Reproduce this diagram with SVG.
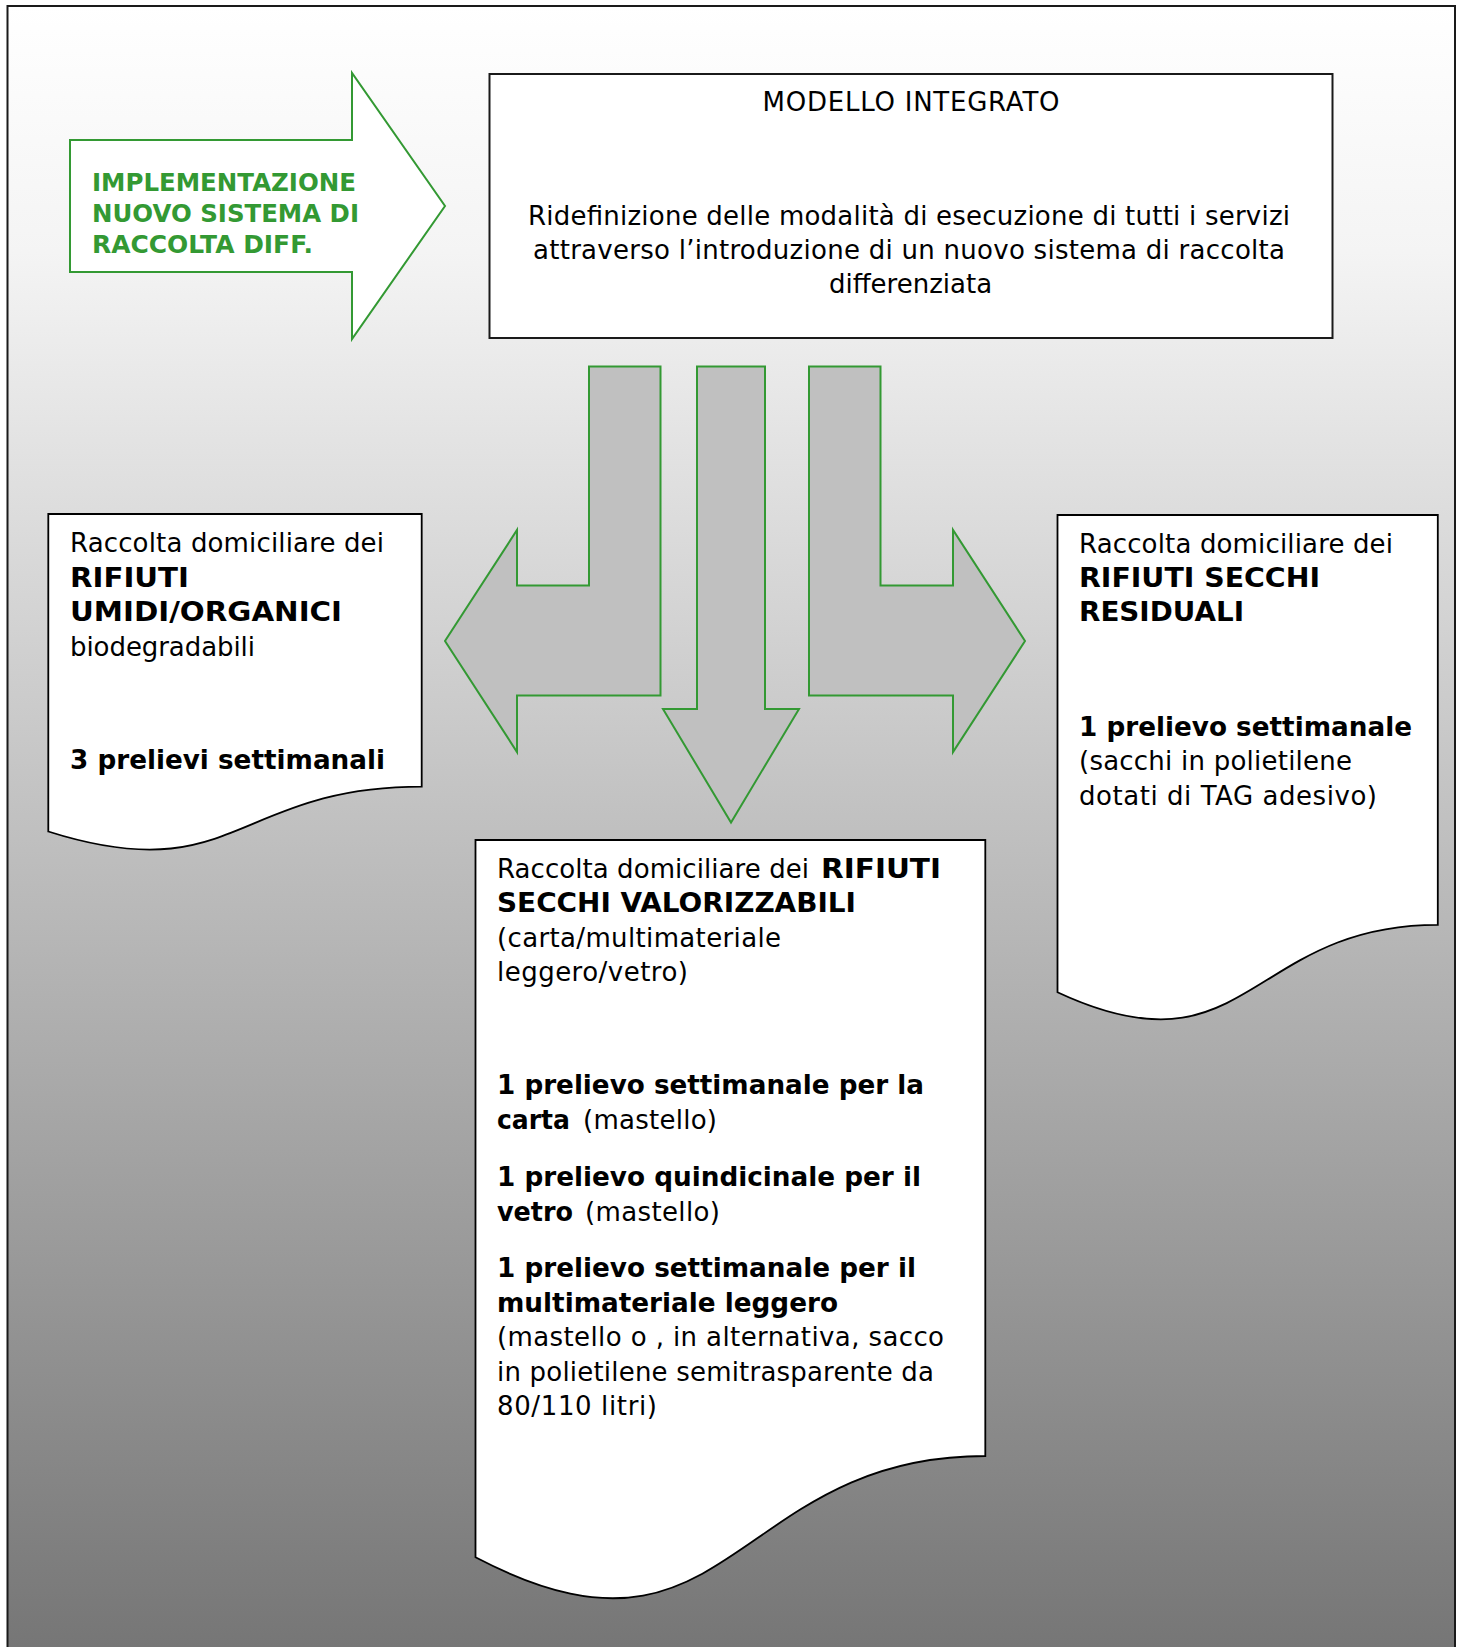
<svg xmlns="http://www.w3.org/2000/svg" width="1461" height="1647" viewBox="0 0 1461 1647">
<style>
  .frame{fill:url(#bg);stroke:#1a1a1a;stroke-width:2}
  .box{fill:#fff;stroke:#1a1a1a;stroke-width:2}
  .doc{fill:#fff;stroke:#000;stroke-width:1.8}
  .garrow{fill:#fff;stroke:#339933;stroke-width:2}
  .barrow{fill:#c0c0c0;stroke:#339933;stroke-width:2}
  text{font-family:"DejaVu Sans",Verdana,sans-serif;font-size:26px;fill:#000}
  .b{font-weight:bold}
  .g{font-weight:bold;font-size:24px;fill:#339933}
</style>
<defs>
  <linearGradient id="bg" x1="0" y1="6" x2="0" y2="1647" gradientUnits="userSpaceOnUse">
    <stop offset="0" stop-color="#ffffff"/>
    <stop offset="0.15" stop-color="#f4f4f4"/>
    <stop offset="1" stop-color="#767676"/>
  </linearGradient>
</defs>
<rect class="frame" x="7.5" y="6" width="1447.5" height="1650"/>

<g id="implementazione">
  <polygon class="garrow" points="70,140 352,140 352,73 445,206 352,339 352,272 70,272"/>
  <text class="g" x="92" y="190.7" textLength="264" lengthAdjust="spacingAndGlyphs">IMPLEMENTAZIONE</text>
  <text class="g" x="92" y="221.7" textLength="267" lengthAdjust="spacingAndGlyphs">NUOVO SISTEMA DI</text>
  <text class="g" x="92" y="253" textLength="221" lengthAdjust="spacingAndGlyphs">RACCOLTA DIFF.</text>
</g>

<g id="modello">
  <rect class="box" x="489.5" y="74" width="843" height="264"/>
  <text x="911" y="110.7" text-anchor="middle" textLength="297" lengthAdjust="spacing">MODELLO INTEGRATO</text>
  <text x="909" y="224.5" text-anchor="middle" textLength="762" lengthAdjust="spacing">Ridefinizione delle modalità di esecuzione di tutti i servizi</text>
  <text x="909" y="258.5" text-anchor="middle" textLength="752" lengthAdjust="spacing">attraverso l’introduzione di un nuovo sistema di raccolta</text>
  <text x="910.5" y="292.5" text-anchor="middle">differenziata</text>
</g>

<g id="connectors">
  <polygon class="barrow" points="589,366.5 660.5,366.5 660.5,695.5 517,695.5 517,752 445,641 517,530 517,585.5 589,585.5"/>
  <polygon class="barrow" points="697,366.5 765,366.5 765,709 799,709 731,822.5 663,709 697,709"/>
  <polygon class="barrow" points="809,366.5 880.5,366.5 880.5,585.5 953,585.5 953,530 1025,641 953,752 953,695.5 809,695.5"/>
</g>

<g id="organici">
  <path class="doc" d="M48.3,514 H421.7 V786.7 C235,786.7 235,890.6 48.3,831.5 Z"/>
  <text x="70" y="552" textLength="314" lengthAdjust="spacing">Raccolta domiciliare dei</text>
  <text class="b" x="70" y="586.5" textLength="119" lengthAdjust="spacingAndGlyphs">RIFIUTI</text>
  <text class="b" x="70" y="621" textLength="272" lengthAdjust="spacingAndGlyphs">UMIDI/ORGANICI</text>
  <text x="70" y="655.5" textLength="185" lengthAdjust="spacing">biodegradabili</text>
  <text class="b" x="70" y="768.5" textLength="315" lengthAdjust="spacingAndGlyphs">3 prelievi settimanali</text>
</g>

<g id="residuali">
  <path class="doc" d="M1057.5,515 H1437.8 V924.8 C1247.6,924.8 1247.6,1080.9 1057.5,992.2 Z"/>
  <text x="1079" y="553" textLength="314" lengthAdjust="spacing">Raccolta domiciliare dei</text>
  <text class="b" x="1079" y="587" textLength="241" lengthAdjust="spacingAndGlyphs">RIFIUTI SECCHI</text>
  <text class="b" x="1079" y="621" textLength="165" lengthAdjust="spacingAndGlyphs">RESIDUALI</text>
  <text class="b" x="1079" y="735.5" textLength="333" lengthAdjust="spacingAndGlyphs">1 prelievo settimanale</text>
  <text x="1079" y="770" textLength="273" lengthAdjust="spacing">(sacchi in polietilene</text>
  <text x="1079" y="804.5" textLength="298" lengthAdjust="spacing">dotati di TAG adesivo)</text>
</g>

<g id="valorizzabili">
  <path class="doc" d="M475.5,840 H985.3 V1456 C730.4,1456 730.4,1690.6 475.5,1557.3 Z"/>
  <text x="497" y="877.5" textLength="312" lengthAdjust="spacing">Raccolta domiciliare dei</text>
  <text class="b" x="821" y="877.5" textLength="120" lengthAdjust="spacingAndGlyphs">RIFIUTI</text>
  <text class="b" x="497" y="912" textLength="359" lengthAdjust="spacingAndGlyphs">SECCHI VALORIZZABILI</text>
  <text x="497" y="946.5" textLength="284" lengthAdjust="spacing">(carta/multimateriale</text>
  <text x="497" y="981" textLength="191" lengthAdjust="spacing">leggero/vetro)</text>
  <text class="b" x="497" y="1094" textLength="427" lengthAdjust="spacingAndGlyphs">1 prelievo settimanale per la</text>
  <text class="b" x="497" y="1129" textLength="73" lengthAdjust="spacingAndGlyphs">carta</text>
  <text x="583" y="1129" textLength="134" lengthAdjust="spacing">(mastello)</text>
  <text class="b" x="497" y="1186" textLength="424" lengthAdjust="spacingAndGlyphs">1 prelievo quindicinale per il</text>
  <text class="b" x="497" y="1220.5" textLength="76" lengthAdjust="spacingAndGlyphs">vetro</text>
  <text x="585" y="1220.5" textLength="135" lengthAdjust="spacing">(mastello)</text>
  <text class="b" x="497" y="1277" textLength="419" lengthAdjust="spacingAndGlyphs">1 prelievo settimanale per il</text>
  <text class="b" x="497" y="1311.5" textLength="341" lengthAdjust="spacingAndGlyphs">multimateriale leggero</text>
  <text x="497" y="1346" textLength="447" lengthAdjust="spacing">(mastello o , in alternativa, sacco</text>
  <text x="497" y="1380.5" textLength="437" lengthAdjust="spacing">in polietilene semitrasparente da</text>
  <text x="497" y="1415" textLength="160" lengthAdjust="spacing">80/110 litri)</text>
</g>
</svg>
